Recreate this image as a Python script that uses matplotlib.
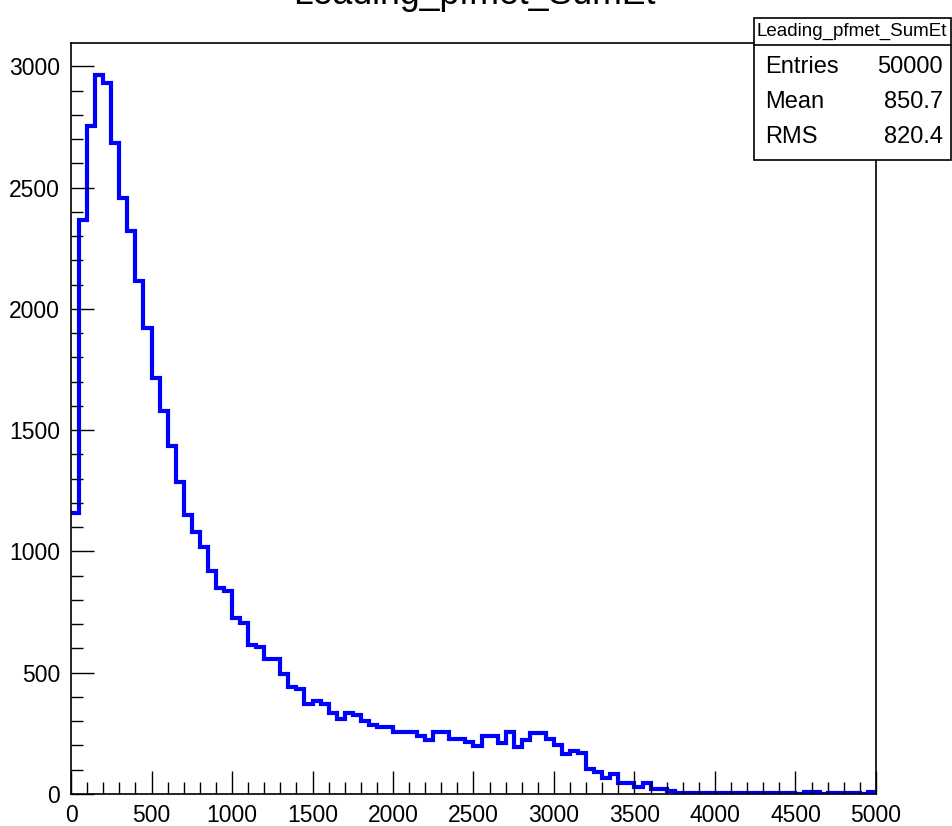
import numpy as np
import matplotlib
matplotlib.use("Agg")
import matplotlib.pyplot as plt
from matplotlib import font_manager as fm
from matplotlib.patches import Rectangle
from matplotlib.lines import Line2D
from matplotlib.ticker import MultipleLocator

# ---------------- data ----------------
title = "Leading_pfmet_SumEt"
bin_edges = np.arange(0, 5001, 50)
counts = [
    1160, 2365, 2755, 2965, 2930, 2685, 2455, 2320, 2115, 1920,
    1715, 1580, 1433, 1286, 1152, 1079, 1018, 921, 848, 838,
    726, 703, 613, 604, 558, 558, 493, 441, 434, 372,
    385, 369, 334, 310, 334, 327, 300, 286, 275, 275,
    254, 254, 254, 240, 222, 254, 254, 227, 227, 213,
    199, 240, 240, 209, 254, 195, 222, 250, 250, 228,
    200, 165, 179, 171, 102, 92, 68, 82, 47, 47,
    29, 47, 19, 19, 13, 6, 6, 6, 6, 6,
    6, 6, 6, 6, 6, 6, 6, 6, 6, 6,
    1, 10, 10, 2, 6, 6, 6, 6, 1, 9,
]
x_ticks = [0, 500, 1000, 1500, 2000, 2500, 3000, 3500, 4000, 4500, 5000]
y_ticks = [0, 500, 1000, 1500, 2000, 2500, 3000]
stats_labels = ["Entries", "Mean", "RMS"]
stats_values = ["50000", "850.7", "820.4"]


def pick(names):
    for n in names:
        try:
            fm.findfont(fm.FontProperties(family=n), fallback_to_default=False)
            return n
        except Exception:
            pass
    return "DejaVu Sans"


FONT = pick(["Liberation Sans Narrow", "Liberation Sans", "Arial"])
NARROW = FONT == "Liberation Sans Narrow"
plt.rcParams["font.family"] = [FONT, "DejaVu Sans"]

tick_fs = 19 if NARROW else 16.5
stat_fs = 20 if NARROW else 17
head_fs = 16 if NARROW else 13.5
title_fs = 31 if NARROW else 25.7

W, H = 953, 826
fig = plt.figure(figsize=(W / 100, H / 100), dpi=100)


def fx(px):
    return px / W


def fy(py):
    return 1 - py / H


ax = fig.add_axes([fx(71), fy(794), fx(876) - fx(71), fy(43) - fy(794)])
ax.stairs(counts, bin_edges, baseline=None, color=(0, 0, 1), lw=3.0,
          joinstyle="miter")
ax.set_xlim(0, 5000)
ax.set_ylim(0, 3096)

ax.set_xticks(x_ticks)
ax.set_yticks(y_ticks)
ax.set_xticklabels([str(v) for v in x_ticks])
ax.set_yticklabels([str(v) for v in y_ticks])
ax.xaxis.set_minor_locator(MultipleLocator(100))
ax.yaxis.set_minor_locator(MultipleLocator(100))
ax.tick_params(axis="both", which="major", direction="in", length=16.5,
               width=1.0, color="black", labelsize=tick_fs, top=False, right=False)
ax.tick_params(axis="both", which="minor", direction="in", length=8.5,
               width=1.0, color="black", top=False, right=False)
ax.tick_params(axis="y", which="major", pad=8)
ax.tick_params(axis="x", which="major", pad=7)
for s in ax.spines.values():
    s.set_linewidth(1.2)
    s.set_color("black")

# title (cut at top as in reference)
fig.text(fx(474), fy(4.5), title, ha="center", va="baseline",
         fontsize=title_fs, color="black")

# stats box
bx0, by0, bx1, by1 = 754, 18, 951, 160
fig.add_artist(Rectangle((fx(bx0), fy(by1)), fx(bx1) - fx(bx0), fy(by0) - fy(by1),
                         transform=fig.transFigure, facecolor="white",
                         edgecolor="black", lw=1.2, zorder=5))
fig.add_artist(Line2D([fx(bx0), fx(bx1)], [fy(45), fy(45)],
                      transform=fig.transFigure, color="black", lw=1.2, zorder=6))
fig.text(fx(852), fy(31), title, ha="center", va="center", fontsize=head_fs,
         zorder=7)
row_y = [66.7, 101.7, 136.7]
for lab, val, ry in zip(stats_labels, stats_values, row_y):
    fig.text(fx(765), fy(ry), lab, ha="left", va="center", fontsize=stat_fs,
             zorder=7)
    fig.text(fx(943), fy(ry), val, ha="right", va="center", fontsize=stat_fs,
             zorder=7)

fig.savefig("out.png", dpi=100, facecolor="white")
